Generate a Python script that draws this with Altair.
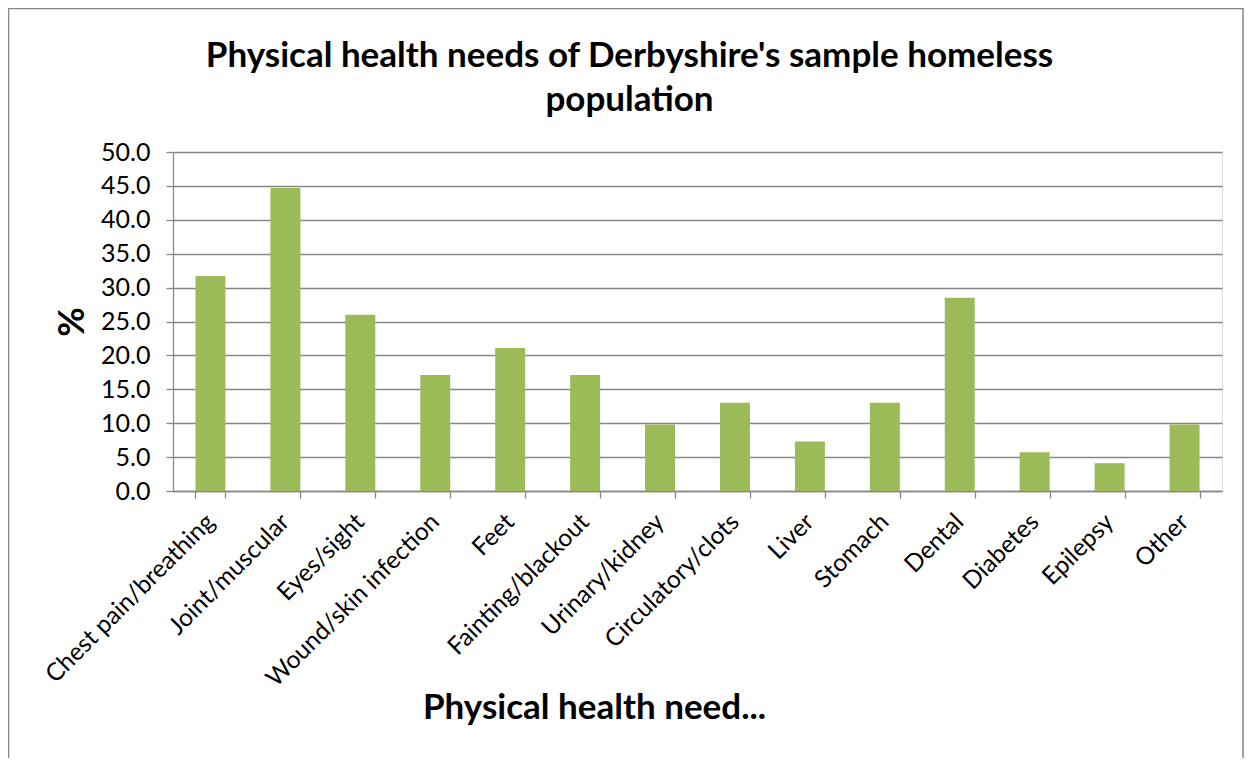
import altair as alt
import pandas as pd

categories = ["Chest pain/breathing", "Joint/muscular", "Eyes/sight", "Wound/skin infection",
              "Feet", "Fainting/blackout", "Urinary/kidney", "Circulatory/clots", "Liver",
              "Stomach", "Dental", "Diabetes", "Epilepsy", "Other"]
percent = [31.7, 44.7, 26.0, 17.1, 21.1, 17.1, 9.8, 13.0, 7.3, 13.0, 28.5, 5.7, 4.1, 9.8]
y_ticks = [0, 5, 10, 15, 20, 25, 30, 35, 40, 45, 50]

title_lines = ["Physical health needs of Derbyshire's sample homeless", "population"]
x_title = "Physical health need..."
y_title = "%"

df = pd.DataFrame({"need": categories, "pct": percent})

FONT = "Lato"
GRAY = "#878787"
W, H = 1049, 339

bars = alt.Chart(df).mark_bar(color="#9BBB59").encode(
    x=alt.X("need:N", sort=categories,
            scale=alt.Scale(paddingInner=0.6, paddingOuter=0.3),
            axis=alt.Axis(title=x_title, labelAngle=-45, labelAlign="right", labelBaseline="middle",
                          labelFontSize=24.5, labelFont=FONT, labelColor="#000000", labelPadding=20,
                          labelLimit=500,
                          tickBand="extent", tickSize=7, tickColor=GRAY, tickWidth=1.3,
                          domainColor=GRAY, domainWidth=1.3, grid=False,
                          titleFont=FONT, titleFontSize=35, titleFontWeight="bold", titleColor="#000000",
                          titleX=421, titleY=227, titleBaseline="alphabetic", titleAlign="center")),
    y=alt.Y("pct:Q", scale=alt.Scale(domain=[0, 50], nice=False),
            axis=alt.Axis(title=y_title, values=y_ticks, format=".1f",
                          labelFontSize=25, labelFont=FONT, labelColor="#000000", labelPadding=16,
                          tickSize=7, tickColor=GRAY, tickWidth=1.3,
                          domainColor=GRAY, domainWidth=1.3,
                          grid=True, gridColor=GRAY, gridWidth=1.3,
                          titleFont=FONT, titleFontSize=36, titleFontWeight="bold", titleColor="#000000",
                          titleX=-90, titleBaseline="alphabetic", titleAlign="center", titleAngle=-90)),
)

frame = alt.Chart(alt.Data(values=[{}])).mark_rect(fill=None, stroke=GRAY, strokeWidth=1.5).encode(
    x=alt.value(-164.5), x2=alt.value(1070), y=alt.value(-143.5), y2=alt.value(700)
)

chart = alt.layer(bars, frame).properties(
    width=W, height=H,
    autosize=alt.AutoSizeParams(type="none"),
    padding={"left": 165, "top": 144, "right": 22, "bottom": 267},
    title=alt.TitleParams(text=title_lines, anchor="middle", dx=-68, dy=130, font=FONT, fontSize=35,
                          fontWeight="bold", color="#000000", lineHeight=44, offset=20),
).configure_view(stroke=None).configure(background="white")

chart.save("out.html", embed_options={"renderer": "svg", "actions": False})
